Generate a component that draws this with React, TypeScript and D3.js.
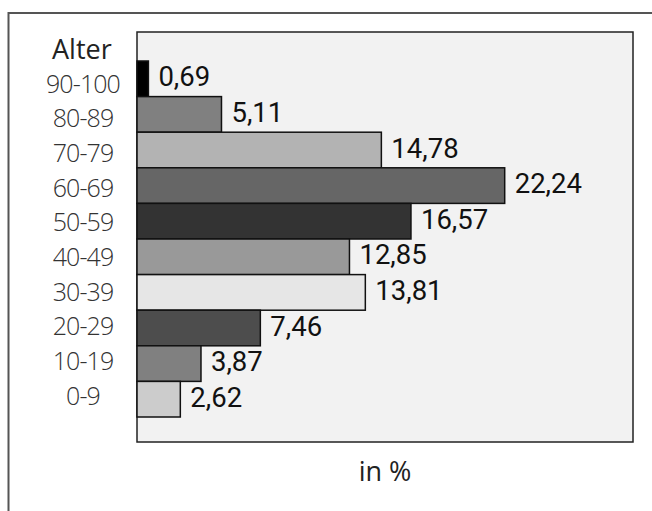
import React from "react";
import * as d3 from "d3";

const categories = ["90-100", "80-89", "70-79", "60-69", "50-59", "40-49", "30-39", "20-29", "10-19", "0-9"];
const values = [0.69, 5.11, 14.78, 22.24, 16.57, 12.85, 13.81, 7.46, 3.87, 2.62];
const valueLabels = ["0,69", "5,11", "14,78", "22,24", "16,57", "12,85", "13,81", "7,46", "3,87", "2,62"];
const barColors = ["#000000", "#808080", "#b3b3b3", "#666666", "#333333", "#999999", "#e6e6e6", "#4d4d4d", "#808080", "#cccccc"];
const axisTitle = "Alter";
const xTitle = "in %";
const xMax = 30;

const W = 652;
const H = 511;
const plot = { left: 137, right: 633, top: 32, bottom: 442 };

export default function App() {
  const x = d3.scaleLinear().domain([0, xMax]).range([plot.left, plot.right]);
  const y = d3.scaleBand<string>().domain(categories).range([61, 417]).padding(0);
  const labelY = d3.scalePoint<string>().domain([axisTitle, ...categories]).range([49, 395.5]);

  return (
    <svg width={W} height={H} style={{ position: "absolute", left: 0, top: 0 }}>
      <rect x={0} y={0} width={W} height={H} fill="#ffffff" />
      <rect x={8.5} y={13} width={W + 20} height={H + 20} fill="#ffffff" stroke="#555" strokeWidth={2} />
      <rect
        x={plot.left}
        y={plot.top}
        width={plot.right - plot.left}
        height={plot.bottom - plot.top}
        fill="#f2f2f2"
        stroke="#222"
        strokeWidth={1.5}
      />
      {categories.map((c, i) => (
        <rect
          key={c}
          x={x(0)}
          y={y(c)!}
          width={x(values[i]) - x(0)}
          height={y.bandwidth()}
          fill={barColors[i]}
          stroke="#111"
          strokeWidth={1.5}
        />
      ))}
      {categories.map((c, i) => (
        <text
          key={"v" + c}
          x={x(values[i]) + 10}
          y={y(c)! + y.bandwidth() / 2 + 7.5}
          fontFamily="Roboto, sans-serif"
          fontSize={27.5}
          fill="#111"
        >
          {valueLabels[i]}
        </text>
      ))}
      <text
        x={52}
        y={labelY(axisTitle)! + 10}
        fontFamily="'Open Sans', sans-serif"
        fontSize={27}
        fill="#222"
      >
        {axisTitle}
      </text>
      {categories.map((c) => (
        <text
          key={"l" + c}
          x={83}
          y={labelY(c)! + 9}
          textAnchor="middle"
          fontFamily="'Open Sans', sans-serif"
          fontWeight={300}
          fontSize={25}
          letterSpacing={-0.9}
          fill="#333"
        >
          {c}
        </text>
      ))}
      <text
        x={(plot.left + plot.right) / 2}
        y={481}
        textAnchor="middle"
        fontFamily="'Open Sans', sans-serif"
        fontSize={27}
        fill="#222"
      >
        {xTitle}
      </text>
    </svg>
  );
}
